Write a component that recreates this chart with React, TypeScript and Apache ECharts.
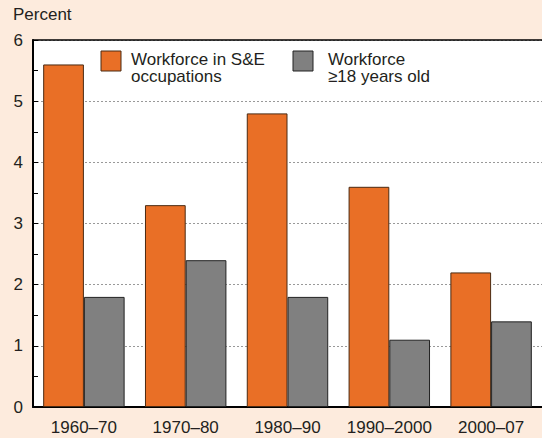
import React, { useEffect, useRef } from "react";
import * as echarts from "echarts";

const categories = ["1960–70", "1970–80", "1980–90", "1990–2000", "2000–07"];
const seSeries = [5.6, 3.3, 4.8, 3.6, 2.2];
const workforceSeries = [1.8, 2.4, 1.8, 1.1, 1.4];
const seriesNames = ["Workforce in S&E occupations", "Workforce ≥18 years old"];
const legendLines = [
  ["Workforce in S&E", "occupations"],
  ["Workforce", "≥18 years old"],
];

const FONT = "'Liberation Sans', Arial, Helvetica, sans-serif";
const TEXT = "#231f20";
const ORANGE = "#e96f26";
const GRAY = "#808080";

export default function App() {
  const ref = useRef<HTMLDivElement>(null);
  useEffect(() => {
    if (!ref.current) return;
    const chart = echarts.init(ref.current, null, { renderer: "svg" });
    const legendText = (x: number, lines: string[]) =>
      lines.map((t, i) => ({
        type: "text",
        x,
        y: 51 + i * 17,
        style: { text: t, fill: TEXT, font: `17px ${FONT}`, lineHeight: 16 },
      }));
    chart.setOption({
      animation: false,
      backgroundColor: "#fdebdd",
      textStyle: { fontFamily: FONT },
      grid: {
        left: 33,
        top: 40,
        right: 0,
        bottom: 31,
        show: true,
        backgroundColor: "#ffffff",
        borderWidth: 0,
      },
      xAxis: [
        {
          type: "category",
          data: categories,
          axisLine: { lineStyle: { color: "#000", width: 2 } },
          axisTick: { show: false },
          axisLabel: { color: TEXT, fontSize: 17, fontFamily: FONT, margin: 12, interval: 0 },
        },
        {
          type: "category",
          position: "top",
          data: categories,
          axisLine: { lineStyle: { color: "#000", width: 1.5 } },
          axisTick: { show: false },
          axisLabel: { show: false },
        },
      ],
      yAxis: {
        type: "value",
        min: 0,
        max: 6,
        interval: 1,
        axisLine: { show: true, lineStyle: { color: "#000", width: 2 } },
        axisTick: { show: true, inside: true, length: 5, lineStyle: { color: "#000" } },
        minorTick: { show: true, splitNumber: 2, length: 5, lineStyle: { color: "#000" } },
        axisLabel: { color: TEXT, fontSize: 17, fontFamily: FONT, margin: 10 },
        splitLine: {
          show: true,
          lineStyle: { color: "#999", type: [2, 2], width: 1 },
        },
      },
      series: [
        {
          name: seriesNames[0],
          type: "bar",
          data: seSeries,
          barGap: "0%",
          barCategoryGap: "20%",
          itemStyle: { color: ORANGE, borderColor: "#4a2a12", borderWidth: 1 },
        },
        {
          name: seriesNames[1],
          type: "bar",
          data: workforceSeries,
          barGap: "0%",
          barCategoryGap: "20%",
          itemStyle: { color: GRAY, borderColor: "#222", borderWidth: 1 },
        },
      ],
      graphic: [
        {
          type: "text",
          left: 13,
          top: 6,
          style: { text: "Percent", fill: TEXT, font: `17px ${FONT}` },
        },
        {
          type: "rect",
          shape: { x: 101, y: 51, width: 20, height: 20 },
          style: { fill: ORANGE, stroke: "#4a2a12", lineWidth: 1 },
        },
        ...legendText(131, legendLines[0]),
        {
          type: "rect",
          shape: { x: 293, y: 51, width: 20, height: 20 },
          style: { fill: GRAY, stroke: "#222", lineWidth: 1 },
        },
        ...legendText(328, legendLines[1]),
      ],
    });
    return () => chart.dispose();
  }, []);
  return <div ref={ref} style={{ width: 542, height: 438, position: "fixed", left: 0, top: 0 }} />;
}
